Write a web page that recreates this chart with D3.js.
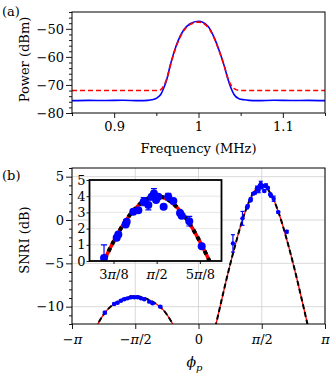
<!DOCTYPE html>
<html>
<head>
<meta charset="utf-8">
<script src="https://cdn.jsdelivr.net/npm/d3@7"></script>
<style>
  body { margin: 0; background: #fff; }
  svg text { font-family: "DejaVu Serif", serif; fill: #000; }
</style>
</head>
<body>
<div id="chart"></div>
<script>
// ---- panel (a): spectrum ----
const freq = [0.85, 0.87, 0.89, 0.91, 0.93, 0.94, 0.945, 0.949, 0.952, 0.955, 0.9587, 0.9627, 0.9665, 0.971, 0.976, 0.982, 0.990, 1.0,
  1.011, 1.019, 1.0248, 1.0306, 1.0345, 1.0384, 1.0423, 1.048, 1.054, 1.06, 1.07, 1.09, 1.11, 1.13, 1.15];
const powerBlue = [-75.6, -75.5, -75.55, -75.45, -75.6, -75.5, -75.3, -74.9, -74.3, -73.5, -71.2, -67.7, -63.0, -58.3, -54.1, -50.6, -48.2, -47.3,
  -49.0, -53.4, -58.0, -63.3, -67.5, -71.0, -73.5, -74.9, -75.3, -75.5, -75.6, -75.45, -75.55, -75.5, -75.6];
const powerRed = [-72.0, -72.0, -72.0, -72.0, -72.0, -72.0, -72.0, -72.0, -71.9, -71.7, -70.4, -67.5, -63.2, -58.6, -54.4, -50.9, -48.5, -47.6,
  -49.3, -53.6, -58.1, -63.3, -67.3, -70.0, -71.3, -71.9, -72.0, -72.0, -72.0, -72.0, -72.0, -72.0, -72.0];
const freqTicks = [0.9, 1.0, 1.1];
const freqMinor = [0.85, 0.95, 1.05, 1.15];
const powerTicks = [-80, -70, -60, -50];

// ---- panel (b): SNRI vs pump phase ----
const fitRightPhi = [0.371, 0.471, 0.571, 0.671, 0.771, 0.871, 0.971, 1.071, 1.171, 1.271, 1.371, 1.471, 1.571,
  1.671, 1.771, 1.871, 1.971, 2.071, 2.171, 2.271, 2.371, 2.471, 2.571, 2.671, 2.771];
const fitRightDb = [-13.3, -11.3, -9.3, -7.3, -5.4, -3.6, -1.9, -0.3, 1.1, 2.3, 3.2, 3.8, 4.0,
  3.8, 3.2, 2.3, 1.1, -0.3, -1.9, -3.6, -5.4, -7.3, -9.3, -11.3, -13.3];
const fitLeftPhi = [-2.571, -2.471, -2.371, -2.271, -2.171, -1.971, -1.771, -1.571, -1.371, -1.171, -0.971, -0.871, -0.771, -0.671, -0.571];
const fitLeftDb = [-12.6, -11.75, -11.0, -10.4, -9.95, -9.35, -8.95, -8.8, -8.95, -9.35, -9.95, -10.4, -11.0, -11.75, -12.6];

const ptPhi = [0.855, 1.092, 1.207, 1.222, 1.289, 1.298, 1.358, 1.404, 1.453, 1.495, 1.525, 1.546, 1.565, 1.585, 1.634, 1.676, 1.722, 1.783, 1.798, 1.867, 1.98, 2.19,
  -2.327, -2.095, -2.012, -1.928, -1.845, -1.763, -1.68, -1.596, -1.514, -1.429, -1.347, -1.222, -1.14, -0.948];
const ptDb = [-2.7, 0.19, 1.43, 1.63, 2.25, 2.42, 3.04, 3.14, 3.66, 3.45, 3.97, 4.17, 3.76, 3.97, 3.35, 3.97, 3.70, 2.97, 2.79, 2.46, 0.91, -1.35,
  -10.69, -9.69, -9.54, -9.31, -9.15, -9.04, -8.92, -8.92, -8.92, -9.04, -9.15, -9.42, -9.62, -10.0];
const ptErr = [1.0, 0.8, 0.1, 0.1, 0.1, 0.1, 0.1, 0.1, 0.25, 0.3, 0.1, 0.3, 0.1, 0.1, 0.1, 0.2, 0.1, 0.1, 0.1, 0.3, 0.1, 0.15,
  0.15, 0.1, 0.1, 0.1, 0.1, 0.1, 0.1, 0.1, 0.1, 0.1, 0.1, 0.1, 0.1, 0.1];

const phiTicks = [-Math.PI, -Math.PI / 2, 0, Math.PI / 2, Math.PI];
const phiLabels = ['−π', '−π/2', '0', 'π/2', 'π'];
const snriTicks = [-10, -5, 0, 5];
const insetPhiTicks = [3 * Math.PI / 8, Math.PI / 2, 5 * Math.PI / 8];
const insetPhiLabels = ['3π/8', 'π/2', '5π/8'];
const insetDbTicks = [0, 1, 2, 3, 4, 5];

const W = 330, H = 377;
const FONT = '"DejaVu Serif", serif';
const TICK_FS = 13, LABEL_FS = 13;
const svg = d3.select('#chart').append('svg').attr('width', W).attr('height', H);

function italicPi(sel, labels) {
  sel.selectAll('.tick text').each(function(d, i) {
    d3.select(this).html(labels[i].replace(/π/g, '<tspan font-style="italic">π</tspan>'));
  });
}

function styleAxis(g) {
  g.select('.domain').remove();
  g.selectAll('.tick line').attr('stroke', '#000').attr('stroke-width', 0.9);
  g.selectAll('.tick text').attr('font-size', TICK_FS).attr('font-family', FONT);
}

// ---------- panel (a) ----------
const ax = {l: 72, r: 325, t: 12, b: 113};
const xA = d3.scaleLinear().domain([0.85, 1.15]).range([ax.l, ax.r]);
const yA = d3.scaleLinear().domain([-80, -44]).range([ax.b, ax.t]);

svg.append('clipPath').attr('id', 'clipA').append('rect')
  .attr('x', ax.l).attr('y', ax.t).attr('width', ax.r - ax.l).attr('height', ax.b - ax.t);

const gA = svg.append('g');
gA.append('g').attr('transform', `translate(0,${ax.b})`)
  .call(d3.axisBottom(xA).tickValues(freqMinor).tickSize(3).tickFormat(''))
  .call(styleAxis);
gA.append('g').attr('transform', `translate(0,${ax.b})`)
  .call(d3.axisBottom(xA).tickValues(freqTicks).tickSize(5).tickPadding(4).tickFormat(d => d === 1 ? '1' : d3.format('.1f')(d)))
  .call(styleAxis);
gA.append('g').attr('transform', `translate(${ax.l},0)`)
  .call(d3.axisLeft(yA).tickValues(d3.range(-80, -43, 2).filter(v => v % 10 !== 0)).tickSize(3).tickFormat(''))
  .call(styleAxis);
gA.append('g').attr('transform', `translate(${ax.l},0)`)
  .call(d3.axisLeft(yA).tickValues(powerTicks).tickSize(6).tickPadding(2).tickFormat(d3.format('d')))
  .call(styleAxis);

const lineA = ys => d3.line().x((d, i) => xA(freq[i])).y(d => yA(d)).curve(d3.curveMonotoneX)(ys);
const plotA = gA.append('g').attr('clip-path', 'url(#clipA)');
plotA.append('path').attr('d', lineA(powerBlue)).attr('fill', 'none').attr('stroke', '#0000ff').attr('stroke-width', 1.6);
plotA.append('path').attr('d', lineA(powerRed)).attr('fill', 'none').attr('stroke', '#ff0000').attr('stroke-width', 1.6)
  .attr('stroke-dasharray', '5,3');
gA.append('rect').attr('x', ax.l).attr('y', ax.t).attr('width', ax.r - ax.l).attr('height', ax.b - ax.t)
  .attr('fill', 'none').attr('stroke', '#000').attr('stroke-width', 1);

svg.append('text').attr('x', (ax.l + ax.r) / 2).attr('y', 153).attr('text-anchor', 'middle').attr('font-size', LABEL_FS)
  .text('Frequency (MHz)');
svg.append('text').attr('transform', `translate(29,${(ax.t + ax.b) / 2 - 3}) rotate(-90)`).attr('text-anchor', 'middle')
  .attr('font-size', LABEL_FS).text('Power (dBm)');
svg.append('text').attr('x', 2).attr('y', 16).attr('font-size', LABEL_FS).text('(a)');

// ---------- panel (b) ----------
const bx = {l: 72, r: 325, t: 168, b: 324};
const xB = d3.scaleLinear().domain([-Math.PI, Math.PI]).range([bx.l, bx.r]);
const yB = d3.scaleLinear().domain([-12, 6]).range([bx.b, bx.t]);

svg.append('clipPath').attr('id', 'clipB').append('rect')
  .attr('x', bx.l).attr('y', bx.t).attr('width', bx.r - bx.l).attr('height', bx.b - bx.t);

const gB = svg.append('g');
const gridB = gB.append('g').attr('stroke', '#cfcfcf').attr('stroke-width', 0.8);
phiTicks.forEach(v => gridB.append('line').attr('x1', xB(v)).attr('x2', xB(v)).attr('y1', bx.t).attr('y2', bx.b));
snriTicks.forEach(v => gridB.append('line').attr('x1', bx.l).attr('x2', bx.r).attr('y1', yB(v)).attr('y2', yB(v)));

gB.append('g').attr('transform', `translate(0,${bx.b})`)
  .call(d3.axisBottom(xB).tickValues(phiTicks).tickSize(5).tickPadding(6))
  .call(styleAxis)
  .call(g => italicPi(g, phiLabels));
gB.append('g').attr('transform', `translate(${bx.l},0)`)
  .call(d3.axisLeft(yB).tickValues(d3.range(-12, 7, 1).filter(v => v % 5 !== 0)).tickSize(3).tickFormat(''))
  .call(styleAxis);
gB.append('g').attr('transform', `translate(${bx.l},0)`)
  .call(d3.axisLeft(yB).tickValues(snriTicks).tickSize(6).tickPadding(2).tickFormat(d3.format('d')))
  .call(styleAxis);

function drawFit(g, xs, ys, x, y, wRed, wBlack, dash) {
  const line = d3.line().x((d, i) => x(xs[i])).y(d => y(d)).curve(d3.curveCatmullRom);
  g.append('path').attr('d', line(ys)).attr('fill', 'none').attr('stroke', '#ff0000').attr('stroke-width', wRed);
  g.append('path').attr('d', line(ys)).attr('fill', 'none').attr('stroke', '#000').attr('stroke-width', wBlack)
    .attr('stroke-dasharray', dash);
}

function drawPoints(g, x, y, r, cap) {
  const pts = g.append('g').attr('fill', '#0000ff').attr('stroke', '#0000ff');
  ptPhi.forEach((p, i) => {
    const cx = x(p), cy = y(ptDb[i]);
    const y1 = y(ptDb[i] + ptErr[i]), y2 = y(ptDb[i] - ptErr[i]);
    pts.append('line').attr('x1', cx).attr('x2', cx).attr('y1', y1).attr('y2', y2).attr('stroke-width', 1.2);
    pts.append('line').attr('x1', cx - cap).attr('x2', cx + cap).attr('y1', y1).attr('y2', y1).attr('stroke-width', 1.2);
    pts.append('line').attr('x1', cx - cap).attr('x2', cx + cap).attr('y1', y2).attr('y2', y2).attr('stroke-width', 1.2);
    pts.append('circle').attr('cx', cx).attr('cy', cy).attr('r', r).attr('stroke', 'none');
  });
}

const plotB = gB.append('g').attr('clip-path', 'url(#clipB)');
drawFit(plotB, fitRightPhi, fitRightDb, xB, yB, 1.3, 2, '5,3');
drawFit(plotB, fitLeftPhi, fitLeftDb, xB, yB, 1.3, 2, '5,3');
drawPoints(plotB, xB, yB, 2.2, 2);
gB.append('rect').attr('x', bx.l).attr('y', bx.t).attr('width', bx.r - bx.l).attr('height', bx.b - bx.t)
  .attr('fill', 'none').attr('stroke', '#000').attr('stroke-width', 1);

const phiLabel = svg.append('text').attr('x', (bx.l + bx.r) / 2 - 4).attr('y', 367).attr('text-anchor', 'middle')
  .attr('font-size', 14);
phiLabel.append('tspan').attr('font-style', 'italic').text('ϕ');
phiLabel.append('tspan').attr('font-style', 'italic').attr('font-size', 10).attr('dy', 4).text('p');
svg.append('text').attr('transform', `translate(29,240) rotate(-90)`).attr('text-anchor', 'middle')
  .attr('font-size', LABEL_FS).text('SNRI (dB)');
svg.append('text').attr('x', 2).attr('y', 180).attr('font-size', LABEL_FS).text('(b)');

// ---------- inset ----------
const ix = {l: 89.5, r: 221.5, t: 180, b: 261};
const xI = d3.scaleLinear().domain([0.96, 2.16]).range([ix.l, ix.r]);
const yI = d3.scaleLinear().domain([0, 5]).range([ix.b, ix.t]);

svg.append('clipPath').attr('id', 'clipI').append('rect')
  .attr('x', ix.l).attr('y', ix.t).attr('width', ix.r - ix.l).attr('height', ix.b - ix.t);

const gI = svg.append('g');
gI.append('rect').attr('x', ix.l).attr('y', ix.t).attr('width', ix.r - ix.l).attr('height', ix.b - ix.t).attr('fill', '#fff');
const gridI = gI.append('g').attr('stroke', '#e0e0e0').attr('stroke-width', 0.8);
insetDbTicks.forEach(v => gridI.append('line').attr('x1', ix.l).attr('x2', ix.r).attr('y1', yI(v)).attr('y2', yI(v)));

gI.append('g').attr('transform', `translate(0,${ix.b})`)
  .call(d3.axisBottom(xI).tickValues(insetPhiTicks).tickSize(3).tickPadding(6))
  .call(styleAxis)
  .call(g => italicPi(g, insetPhiLabels));
gI.append('g').attr('transform', `translate(${ix.l},0)`)
  .call(d3.axisLeft(yI).tickValues(insetDbTicks).tickSize(3).tickPadding(1).tickFormat(d3.format('d')))
  .call(styleAxis);

const plotI = gI.append('g').attr('clip-path', 'url(#clipI)');
drawFit(plotI, fitRightPhi, fitRightDb, xI, yI, 3.5, 4, '4,4');
drawPoints(plotI, xI, yI, 4, 3);
gI.append('rect').attr('x', ix.l).attr('y', ix.t).attr('width', ix.r - ix.l).attr('height', ix.b - ix.t)
  .attr('fill', 'none').attr('stroke', '#000').attr('stroke-width', 1.8);
</script>
</body>
</html>
